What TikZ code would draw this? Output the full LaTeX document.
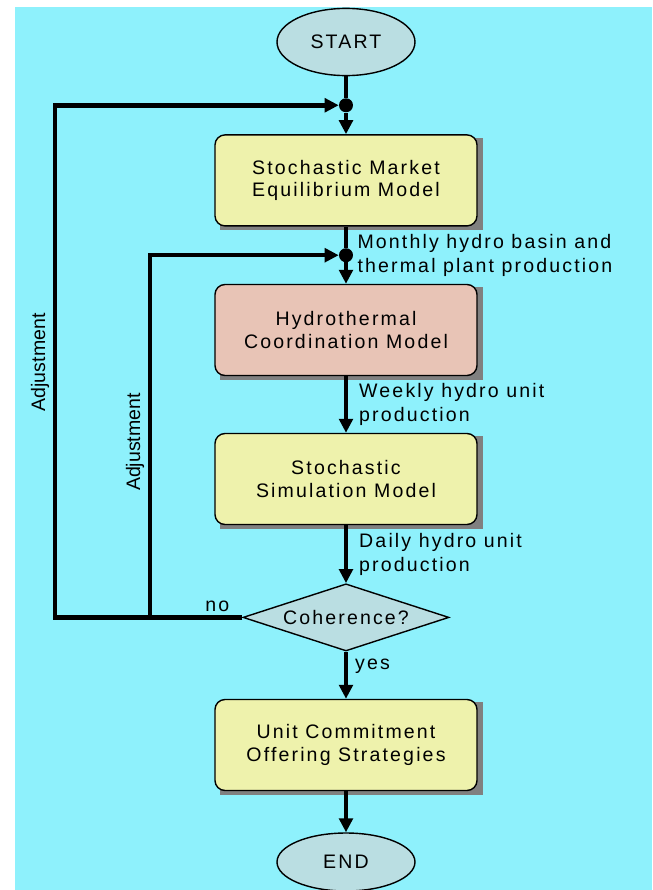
\documentclass[tikz,border=0pt]{standalone}
\usepackage{fontspec}
\setmainfont{Liberation Sans}
\newfontfamily\spacedfont[LetterSpace=11]{Liberation Sans}
\usetikzlibrary{arrows.meta, shapes, positioning, calc, backgrounds}

\definecolor{bgcyan}{RGB}{142,241,252}
\definecolor{modelyellow}{RGB}{238,242,172}
\definecolor{modelsalmon}{RGB}{232,196,182}
\definecolor{termblue}{RGB}{186,222,226}
\definecolor{shadowgray}{RGB}{128,128,128}

\begin{document}
\begin{tikzpicture}[
	>={Triangle[length=0.35cm,width=0.34cm]},
	flow/.style={line width=3.2pt},
	model/.style={draw, line width=1pt, rounded corners=0.25cm, minimum width=6.55cm, minimum height=2.275cm, align=center, font=\spacedfont\fontsize{13.9}{16}\selectfont},
	terminal/.style={draw, ellipse, fill=termblue, line width=1pt, minimum width=3.45cm, font=\spacedfont\fontsize{13.9}{16}\selectfont},
	decision/.style={draw, diamond, aspect=3.07, fill=termblue, line width=1pt, minimum width=5.15cm, minimum height=1.68cm, inner sep=0pt, font=\spacedfont\fontsize{13.9}{16}\selectfont},
	dot/.style={circle, fill, inner sep=0pt, minimum size=0.35cm},
	note/.style={align=left, inner sep=0pt, font=\spacedfont\fontsize{13.9}{17}\selectfont},
	adjust/.style={rotate=90, above, inner sep=0.09cm, font=\fontsize{13.9}{16}\selectfont}]
	\useasboundingbox (-8.65,1.05) rectangle (7.65,-21.2);

	% nodes %
	\node[terminal, minimum height=1.68cm] (start) {START};
	\node[model, fill=modelyellow, below of = start, node distance=3.46cm] (smem) {Stochastic Market\\Equilibrium Model};
	\node[model, fill=modelsalmon, below of = smem, node distance=3.74cm] (hcm) {Hydrothermal\\Coordination Model};
	\node[model, fill=modelyellow, below of = hcm, node distance=3.725cm] (ssm) {Stochastic\\Simulation Model};
	\node[decision, below of = ssm, node distance=3.46cm] (coh) {Coherence?};
	\node[model, fill=modelyellow, below of = coh, node distance=3.19cm] (ucos) {Unit Commitment\\Offering Strategies};
	\node[terminal, minimum height=1.45cm, below of = ucos, node distance=2.925cm] (end) {END};

	% junctions and loop corners %
	\node[dot] (j1) at ($(start.south)!0.5!(smem.north)$) {};
	\node[dot] (j2) at ($(smem.south)!0.5!(hcm.north)$) {};
	\coordinate[left of = coh, node distance=7.275cm] (outer);
	\coordinate[left of = coh, node distance=4.9cm] (inner);
	\node[note, anchor=west, right=0.1cm of j2] (monthly) {Monthly hydro basin and\\thermal plant production};

	% edges %
	\draw[flow] (start) -- (j1);
	\draw[flow, ->] (j1) -- (smem);
	\draw[flow] (smem) -- (j2);
	\draw[flow, ->] (j2) -- (hcm);
	\draw[flow, ->] (hcm) -- (ssm) node[note, midway, right=0.275cm] {Weekly hydro unit\\production};
	\draw[flow, ->] (ssm) -- (coh) node[note, midway, right=0.275cm] {Daily hydro unit\\production};
	\draw[flow, ->] (coh) -- (ucos) node[note, pos=0.3, right=0.175cm] {yes};
	\draw[flow, ->] (ucos) -- (end);
	\draw[flow, ->] (coh.west) -- node[note, pos=0.133, above=0.08cm] {no} (outer) |- node[adjust, pos=0.249] {Adjustment} (j1);
	\draw[flow, ->] (inner) |- node[adjust, pos=0.242] {Adjustment} (j2);

	% background and box shadows %
	\begin{scope}[on background layer]
		\fill[bgcyan] (-8.275,0.875) rectangle (7.65,-21.2);
		\foreach \b in {smem, hcm, ssm, ucos}
			\fill[shadowgray] ([shift={(0.14,-0.09)}]\b.south west) rectangle ([shift={(0.14,-0.09)}]\b.north east);
	\end{scope}
\end{tikzpicture}
\end{document}
